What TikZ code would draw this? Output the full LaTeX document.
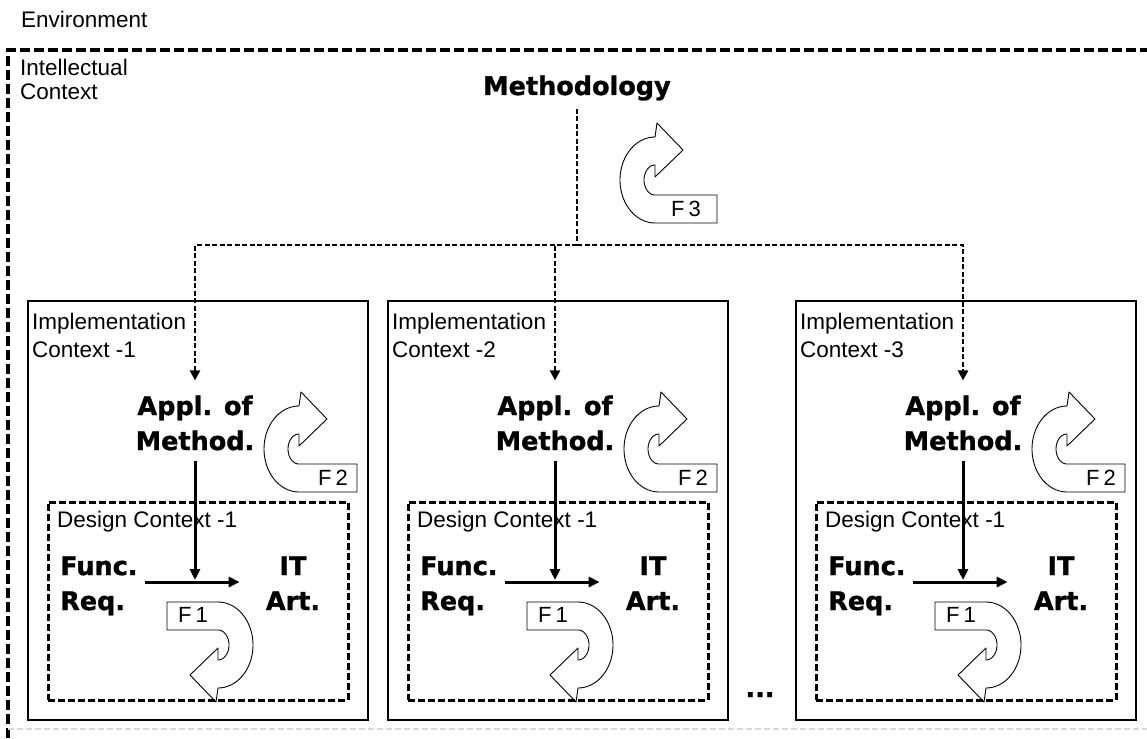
\documentclass[tikz,border=0pt]{standalone}
\usepackage{fontspec}
\setmainfont{Liberation Sans}
\newfontfamily\headfont{DejaVu Sans}[BoldFeatures={FakeBold=1.3}]
\usetikzlibrary{arrows.meta}
\tikzset{
  lbl/.style={font=\fontsize{22.5}{28}\selectfont, inner sep=0pt, align=left},
  bold/.style={font=\headfont\bfseries\fontsize{25.5}{35}\selectfont, inner sep=0pt},
  flbl/.style={font=\fontsize{22}{22}\selectfont, inner sep=0pt},
  implbox/.style={draw, line width=1.8pt, minimum width=340pt, minimum height=419pt, inner sep=0pt},
  designbox/.style={draw, line width=3pt, dash pattern=on 7pt off 3pt, minimum width=300pt, minimum height=198pt, inner sep=0pt},
  outerframe/.style={line width=3.2pt, dash pattern=on 10pt off 4pt},
  dconn/.style={line width=2.8pt, dash pattern=on 5pt off 2.5pt},
  solidarrow/.style={line width=3pt, -{Triangle[length=11pt,width=10pt]}},
  fshape/.style={draw, fill=white, line width=0.9pt, line join=round},
  taillen/.store in=\ftail, taillen=62,
  uturn/.pic={
    \draw[fshape] (\ftail,15) -- (\ftail,43)
      -- plot[domain=90:270, samples=40, variable=\t] ({35*cos(\t)},{43*sin(\t)})
      -- (2,-57) -- (28,-30) -- (0,-3)
      -- plot[domain=270:90, samples=30, variable=\t] ({11*cos(\t)},{15*sin(\t)})
      -- cycle;
  }
}
\begin{document}
\begin{tikzpicture}[x=1pt, y=-1pt]
\useasboundingbox (0,0) rectangle (1147,738);

% environment / intellectual context
\node[lbl, anchor=base west] (env) at (21,28) {Environment};
\draw[outerframe] (8,738) -- (8,50) -- (1147,50);
\draw[line width=1.5pt, black!15, dash pattern=on 6pt off 3pt] (8,729) -- (1147,729);
\node[lbl, font=\fontsize{22.5}{24}\selectfont, anchor=base west] (intel) at (20,100) {Intellectual\\Context};

% methodology
\node[bold, anchor=base] (meth) at (577,95) {Methodology};
\pic[taillen=62] at (655,180) {uturn};
\node[flbl] (f3) at (686,209) {F\kern4pt 3};
\coordinate (j) at (577,245);
\draw[dconn, shorten <=8pt] (meth.south) -- (j);

\foreach \i/\bx in {1/28, 2/388, 3/796} {
  \node[implbox] (impl\i) at (\bx+170,510.5) {};
  \node[lbl, anchor=base west] (impltext\i) at (\bx+4,357) {Implementation\\Context -\i};
  \node[bold, anchor=base, align=center] (appl\i) at (\bx+167,450) {Appl. of\\Method.};
  \pic[taillen=58] at (\bx+271,449) {uturn};
  \node[flbl] (f2l\i) at (\bx+305,478) {F\kern4pt 2};
  \pic[taillen=51, rotate=180] at (\bx+190,645) {uturn};
  \node[flbl] (f1l\i) at (\bx+165,615) {F\kern4pt 1};
  \node[designbox] (design\i) at (\bx+170,601) {};
  \node[lbl, anchor=base west] (dtext\i) at (\bx+29,527) {Design Context -1};
  \node[bold, anchor=base west, align=left] (func\i) at (\bx+32,610) {Func.\\Req.};
  \node[bold, anchor=base, align=center] (it\i) at (\bx+265,610) {IT\\Art.};
  \coordinate (ah\i) at (\bx+170,582);
  \draw[solidarrow, shorten <=7pt, shorten >=26pt] (func\i.east |- ah\i) -- (it\i.west |- ah\i);
  \draw[solidarrow, shorten <=10pt, shorten >=2pt] (appl\i.south) -- (appl\i.south |- ah\i);
  \draw[dconn, -{Triangle[length=10pt,width=10pt]}, shorten >=15pt] (j) -| (appl\i.north);
}

\node[bold, anchor=base] (dots) at (760,697) {...};
\end{tikzpicture}
\end{document}
